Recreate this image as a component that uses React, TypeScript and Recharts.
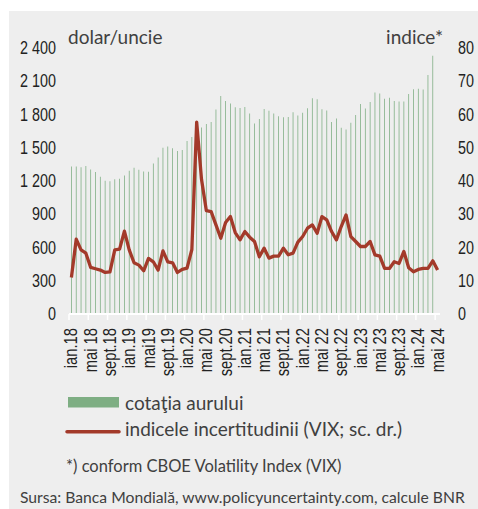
import { Bar, ComposedChart, Line, XAxis, YAxis } from "recharts";

// cotatia aurului, USD/uncie, ian.2018 - apr.2024
const gold = [
    1331, 1331, 1325, 1335, 1303, 1281, 1238, 1202, 1198, 1215, 1221, 1250,
    1292, 1320, 1301, 1286, 1284, 1359, 1413, 1500, 1511, 1495, 1470, 1480,
    1561, 1597, 1592, 1683, 1714, 1732, 1846, 1968, 1922, 1900, 1866, 1858,
    1867, 1808, 1718, 1760, 1850, 1834, 1808, 1785, 1775, 1777, 1821, 1790,
    1816, 1856, 1947, 1937, 1848, 1837, 1733, 1765, 1681, 1665, 1725, 1795,
    1895, 1855, 1913, 1998, 1990, 1943, 1951, 1921, 1917, 1917, 1985, 2027,
    2033, 2025, 2157, 2331,
];

// VIX, ian.2018 - mai 2024
const vix = [
    11.0, 22.5, 19.3, 18.3, 14.0, 13.6, 13.2, 12.5, 12.7, 19.3, 19.5, 24.9,
    19.3, 15.4, 14.7, 13.0, 16.7, 15.7, 13.2, 19.0, 15.7, 15.4, 12.5, 13.4,
    13.8, 19.4, 57.7, 40.5, 31.1, 30.8, 26.8, 22.8, 27.5, 29.3, 24.5, 22.3,
    24.8, 23.1, 21.8, 17.2, 19.8, 16.8, 17.4, 17.4, 19.8, 17.8, 18.3, 21.6,
    23.3, 25.8, 26.8, 24.3, 29.3, 28.3, 24.8, 22.3, 26.3, 29.8, 23.3, 21.8,
    20.3, 20.3, 21.8, 17.8, 17.4, 13.7, 13.7, 15.7, 15.2, 18.8, 13.9, 12.7,
    13.4, 13.7, 13.7, 16.0, 13.2,
];

const tickLabels = [
    "ian.18", "mai 18", "sept.18", "ian.19", "mai19", "sept.19", "ian.20",
    "mai 20", "sept.20", "ian.21", "mai 21", "sept.21", "ian.22", "mai 22",
    "sept.22", "ian.23", "mai 23", "sept.23", "ian.24", "mai 24",
];

const leftTicks = [0, 300, 600, 900, 1200, 1500, 1800, 2100, 2400];
const rightTicks = [0, 10, 20, 30, 40, 50, 60, 70, 80];

const months = vix.map((_, i) => `${2018 + Math.floor(i / 12)}-${String((i % 12) + 1).padStart(2, "0")}`);
const data = months.map((month, i) => ({ month, gold: gold[i] ?? null, vix: vix[i] }));

const W = 469;
const H = 370;
const LEFT_W = 60;
const RIGHT_W = 38;
const BAND = (W - LEFT_W - RIGHT_W) / months.length;

// no narrow face installed, so Liberation Sans squeezed horizontally
const NARROW = '"Liberation Sans", Arial, sans-serif';
const SQUEEZE = 0.82;
const TEXT = 'Lato, "Open Sans", sans-serif';

const fmt = (v: number) => (v >= 1000 ? `${Math.floor(v / 1000)} ${String(v % 1000).padStart(3, "0")}` : String(v));

const MonthTick = (props: any) => {
    const { x, y, payload } = props;
    const i = months.indexOf(payload.value);
    const bx = x - BAND / 2;
    return (
        <g>
            <line x1={bx} x2={bx} y1={y} y2={y + 6} stroke="#fff" strokeWidth={1.5} />
            <text
                transform={`translate(${x + 6},${y + 14}) rotate(-90) scale(${SQUEEZE},1)`}
                textAnchor="end"
                fontSize={18}
                fontFamily={NARROW}
                fill="#222"
            >
                {tickLabels[i / 4]}
            </text>
        </g>
    );
};

const ValueTick = (props: any) => {
    const { x, y, payload, textAnchor, left } = props;
    return (
        <text
            transform={`translate(${x},${y}) scale(${SQUEEZE},1)`}
            textAnchor={textAnchor}
            dy="0.355em"
            fontSize={17.5}
            fontFamily={NARROW}
            fill="#222"
        >
            {left ? fmt(payload.value) : payload.value}
        </text>
    );
};

export default function App() {
    return (
        <div style={{ position: "fixed", left: 9, top: 11, width: W, height: 498, background: "#eeeeee" }}>
            <div style={{ position: "absolute", left: 0, top: 0 }}>
                <ComposedChart width={W} height={H} data={data} margin={{ top: 37, right: 0, bottom: 0, left: 0 }} barCategoryGap="42%">
                    <XAxis
                        dataKey="month"
                        interval={3}
                        height={H - 37 - 266}
                        tick={<MonthTick />}
                        tickLine={false}
                        tickSize={0}
                        tickMargin={0}
                        axisLine={{ stroke: "#fff", strokeWidth: 2 }}
                    />
                    <YAxis
                        yAxisId="left"
                        width={LEFT_W}
                        domain={[0, 2400]}
                        ticks={leftTicks}
                        axisLine={false}
                        tickLine={false}
                        tickSize={0}
                        tickMargin={13}
                        tick={<ValueTick left />}
                    />
                    <YAxis
                        yAxisId="right"
                        orientation="right"
                        width={RIGHT_W}
                        domain={[0, 80]}
                        ticks={rightTicks}
                        axisLine={false}
                        tickLine={false}
                        tickSize={0}
                        tickMargin={18}
                        tick={<ValueTick />}
                    />
                    <Bar yAxisId="left" dataKey="gold" fill="#7eae83" isAnimationActive={false} />
                    <Line
                        yAxisId="right"
                        dataKey="vix"
                        type="linear"
                        stroke="#a33a2a"
                        strokeWidth={3.3}
                        strokeLinejoin="round"
                        dot={false}
                        isAnimationActive={false}
                    />
                </ComposedChart>
            </div>
            <svg width={W} height={498} style={{ position: "absolute", left: 0, top: 0, pointerEvents: "none" }}>
                <g fontFamily={TEXT} fill="#404040">
                    <text x={59} y={32.5} fontSize={19}>dolar/uncie</text>
                    <text x={434} y={32.5} fontSize={19} textAnchor="end">indice*</text>
                    <rect x={59} y={386} width={51} height={10.5} fill="#7eae83" />
                    <text x={116} y={399} fontSize={19}>cotaţia aurului</text>
                    <line x1={58} x2={110} y1={420.7} y2={420.7} stroke="#a33a2a" strokeWidth={3.5} strokeLinecap="round" />
                    <text x={116} y={425} fontSize={19}>indicele incertitudinii (VIX; sc. dr.)</text>
                    <text x={57} y={460.5} fontSize={16.5}>*) conform CBOE Volatility Index (VIX)</text>
                    <text x={11} y={492} fontSize={15.7}>Sursa: Banca Mondială, www.policyuncertainty.com, calcule BNR</text>
                </g>
            </svg>
        </div>
    );
}
